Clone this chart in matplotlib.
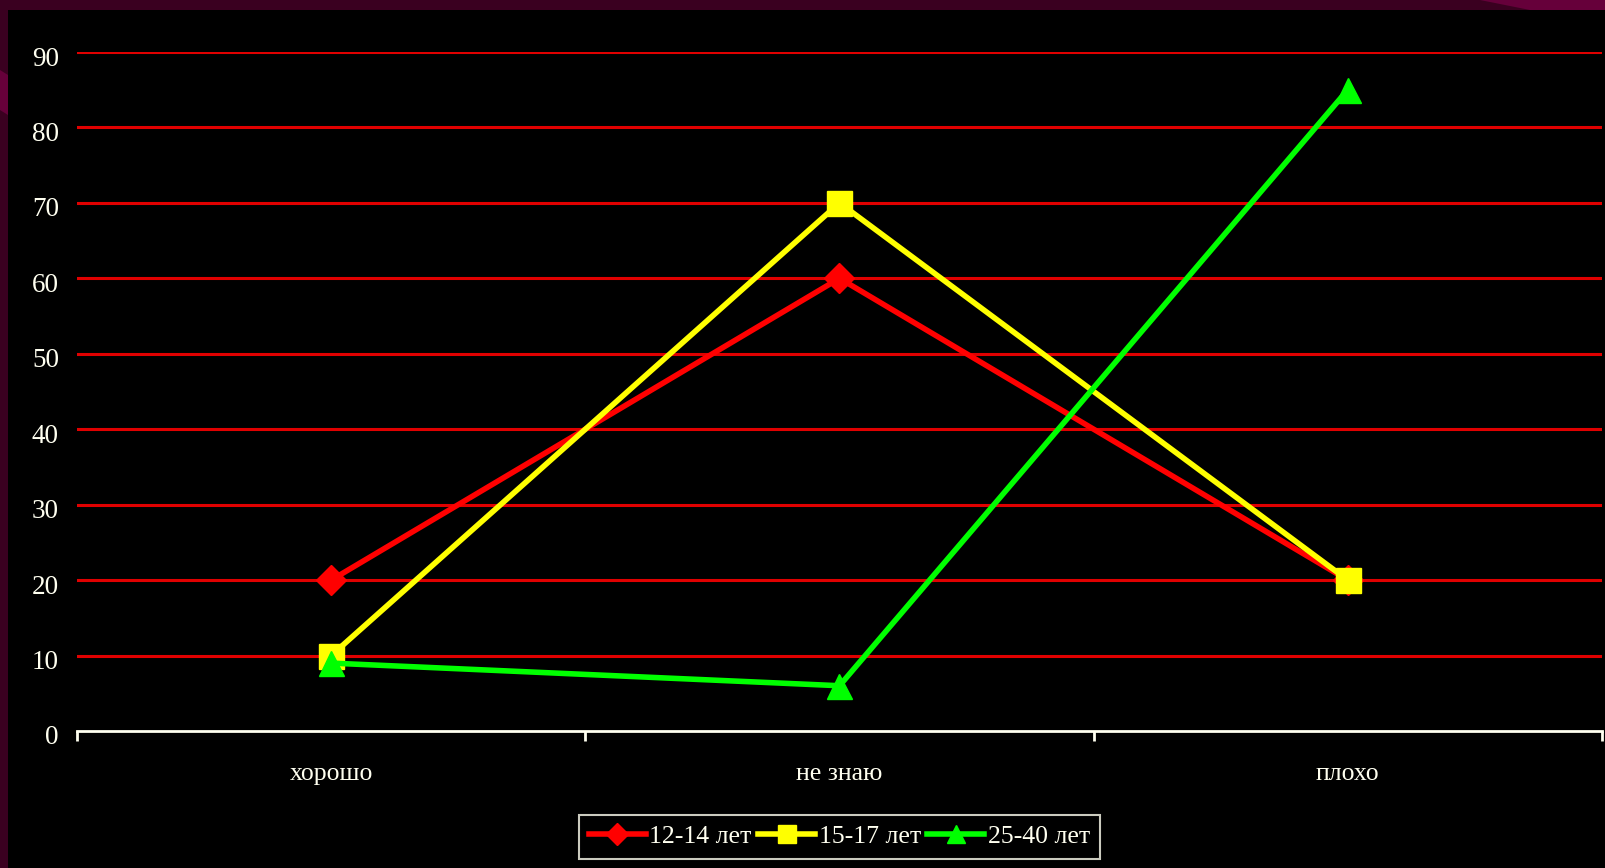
import matplotlib
matplotlib.use('Agg')
from matplotlib import pyplot as plt
from matplotlib.patches import Rectangle, Polygon
from matplotlib.transforms import ScaledTranslation

categories = ['хорошо', 'не знаю', 'плохо']
age_12_14 = [20, 60, 20]
age_15_17 = [10, 70, 20]
age_25_40 = [9, 6, 85]
series_names = ['12-14 лет', '15-17 лет', '25-40 лет']
y_ticks = [0, 10, 20, 30, 40, 50, 60, 70, 80, 90]

W, H = 1606, 868
fig = plt.figure(figsize=(W / 100, H / 100), dpi=100, facecolor='#3a0020')

# slide decoration around the black area
fig.patches.append(Polygon([(1480 / W, 1), (1 , 1), (1, 1 - 12 / H), (1540 / W, 1 - 12 / H)],
                           closed=True, transform=fig.transFigure, facecolor='#66003a',
                           edgecolor='none', zorder=-3))
fig.patches.append(Polygon([(0, 1 - 70 / H), (8 / W, 1 - 75 / H), (8 / W, 1 - 115 / H), (0, 1 - 110 / H)],
                           closed=True, transform=fig.transFigure, facecolor='#66003a',
                           edgecolor='none', zorder=-3))
fig.patches.append(Rectangle((8 / W, 0), 1 - 8 / W, 1 - 10 / H, transform=fig.transFigure,
                             facecolor='black', edgecolor='none', zorder=-2))

ax = fig.add_axes([77 / W, 1 - 731 / H, (1602 - 77) / W, (731 - 52) / H])
ax.set_facecolor('none')

x = list(range(len(categories)))
ax.plot(x, age_12_14, color='#ff0000', lw=4, marker='D', ms=15, label=series_names[0], zorder=3)
ax.plot(x, age_15_17, color='#ffff00', lw=4, marker='s', ms=18, label=series_names[1], zorder=3)
ax.plot(x, age_25_40, color='#00ff00', lw=4, marker='^', ms=18, label=series_names[2], zorder=3)

ax.set_xlim(-0.5, 2.5)
ax.set_ylim(0, 90)

for v in y_ticks[1:]:
    ax.axhline(v, color='#e00000', lw=2.2, zorder=1)

for s in ['top', 'right', 'left']:
    ax.spines[s].set_visible(False)
ax.spines['bottom'].set_color('#fffff0')
ax.spines['bottom'].set_linewidth(2)

txt = '#fffff0'
ax.set_yticks(y_ticks)
ax.set_yticklabels([str(v) for v in y_ticks], fontfamily='Liberation Serif', fontsize=19.5, color=txt)
ax.tick_params(axis='y', length=0, pad=13)
shift = ScaledTranslation(0, -4 / 100, fig.dpi_scale_trans)
for lab in ax.get_yticklabels():
    lab.set_transform(lab.get_transform() + shift)

ax.set_xticks([-0.5, 0.5, 1.5, 2.5])
ax.set_xticklabels([])
ax.set_xticks(x, minor=True)
ax.set_xticklabels(categories, minor=True, fontfamily='Liberation Serif', fontsize=18.5, color=txt)
ax.tick_params(axis='x', which='major', length=7, width=2, color=txt, direction='out')
ax.tick_params(axis='x', which='minor', length=0, pad=23)

leg = ax.legend(loc='upper center', bbox_to_anchor=(0.5, -0.105), ncol=3, frameon=True,
                prop={'family': 'Liberation Serif', 'size': 18.5}, handlelength=2.2,
                columnspacing=0.25, handletextpad=0.15, borderpad=0.4, fancybox=False,
                markerscale=0.75)
leg.get_frame().set_facecolor('black')
leg.get_frame().set_edgecolor(txt)
leg.get_frame().set_linewidth(1.5)
for t in leg.get_texts():
    t.set_color(txt)

fig.savefig('out.png', dpi=100, facecolor=fig.get_facecolor())
